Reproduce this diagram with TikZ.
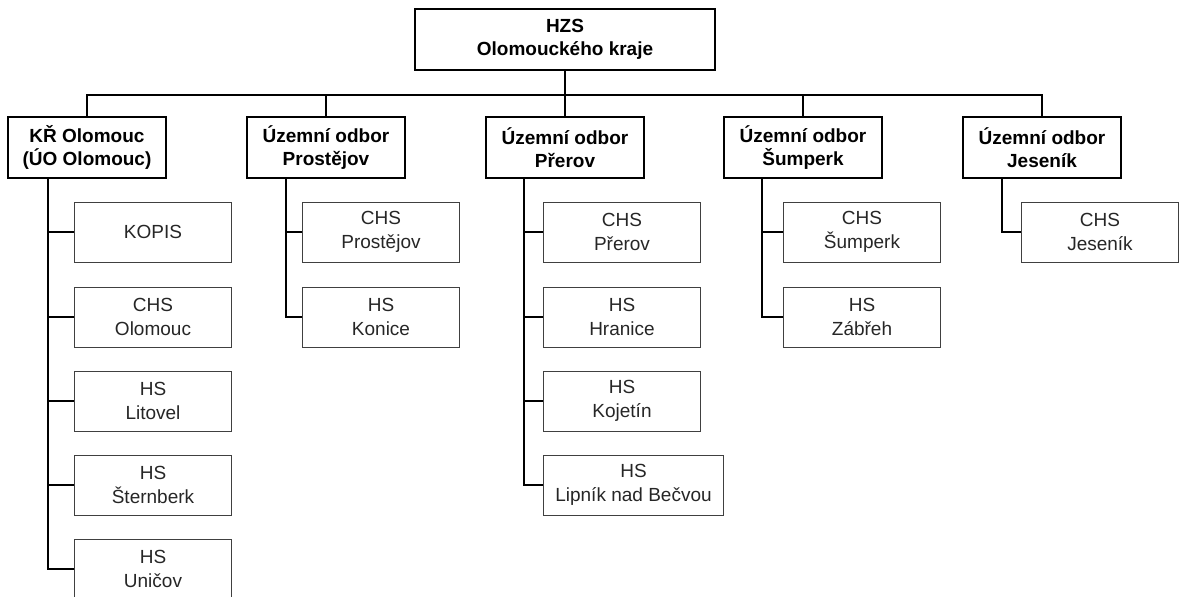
\documentclass[tikz,border=0pt]{standalone}
\usepackage{fontspec}
\setmainfont{Liberation Sans}
\usetikzlibrary{calc}

\tikzset{
  unit/.style={draw, line width=2pt, align=center, inner sep=0pt,
    font=\bfseries\fontsize{19}{23.5}\selectfont,
    minimum width=158pt, minimum height=61pt},
  station/.style={draw=black!75, line width=1pt, text=black!85, align=center,
    inner sep=0pt, anchor=west, font=\fontsize{19}{23.5}\selectfont,
    minimum width=157pt, minimum height=60pt},
  link/.style={line width=2pt}
}

\begin{document}
\begin{tikzpicture}[x=1pt,y=-1pt]
                \useasboundingbox (0,0) rectangle (1179,597);
                \node[unit, minimum width=300pt] (hzs) at (565,39.5) {HZS\\Olomouckého kraje};
                \node[unit] (kr) at (87,147.5) {KŘ Olomouc\\(ÚO Olomouc)};
                \node[unit] (pv) at (326,147.5) {Územní odbor\\Prostějov};
                \node[unit] (pr) at (565,147.5) {Územní odbor\\Přerov};
                \node[unit] (sum) at (803,147.5) {Územní odbor\\Šumperk};
                \node[unit] (jes) at (1042,147.5) {Územní odbor\\Jeseník};
                \node[station] (kopis) at (74,232) {KOPIS};
                \node[station] (chsOl) at (74,317) {CHS\\Olomouc};
                \node[station] (hsLit) at (74,401) {HS\\Litovel};
                \node[station] (hsSte) at (74,485) {HS\\Šternberk};
                \node[station] (hsUni) at (74,569) {HS\\Uničov};
                \node[station] (chsPv) at (302,232) {CHS\\Prostějov};
                \node[station] (hsKon) at (302,317) {HS\\Konice};
                \node[station] (chsPr) at (543,232) {CHS\\Přerov};
                \node[station] (hsHra) at (543,317) {HS\\Hranice};
                \node[station] (hsKoj) at (543,401) {HS\\Kojetín};
                \node[station, minimum width=180pt] (hsLip) at (543,485) {HS\\Lipník nad Bečvou};
                \node[station] (chsSum) at (783,232) {CHS\\Šumperk};
                \node[station] (hsZab) at (783,317) {HS\\Zábřeh};
                \node[station] (chsJes) at (1021,232) {CHS\\Jeseník};
                \draw[link] (hzs.south) -- ++(0,24) -| (kr.north);
                \draw[link] (hzs.south) -- ++(0,24) -| (pv.north);
                \draw[link] (hzs.south) -- (pr.north);
                \draw[link] (hzs.south) -- ++(0,24) -| (sum.north);
                \draw[link] (hzs.south) -- ++(0,24) -| (jes.north);
                \draw[link] ($(kr.south west)+(41,0)$) |- (kopis.west);
                \draw[link] ($(kr.south west)+(41,0)$) |- (chsOl.west);
                \draw[link] ($(kr.south west)+(41,0)$) |- (hsLit.west);
                \draw[link] ($(kr.south west)+(41,0)$) |- (hsSte.west);
                \draw[link] ($(kr.south west)+(41,0)$) |- (hsUni.west);
                \draw[link] ($(pv.south west)+(40,0)$) |- (chsPv.west);
                \draw[link] ($(pv.south west)+(40,0)$) |- (hsKon.west);
                \draw[link] ($(pr.south west)+(39,0)$) |- (chsPr.west);
                \draw[link] ($(pr.south west)+(39,0)$) |- (hsHra.west);
                \draw[link] ($(pr.south west)+(39,0)$) |- (hsKoj.west);
                \draw[link] ($(pr.south west)+(39,0)$) |- (hsLip.west);
                \draw[link] ($(sum.south west)+(39,0)$) |- (chsSum.west);
                \draw[link] ($(sum.south west)+(39,0)$) |- (hsZab.west);
                \draw[link] ($(jes.south west)+(40,0)$) |- (chsJes.west);
            \end{tikzpicture}
\end{document}
